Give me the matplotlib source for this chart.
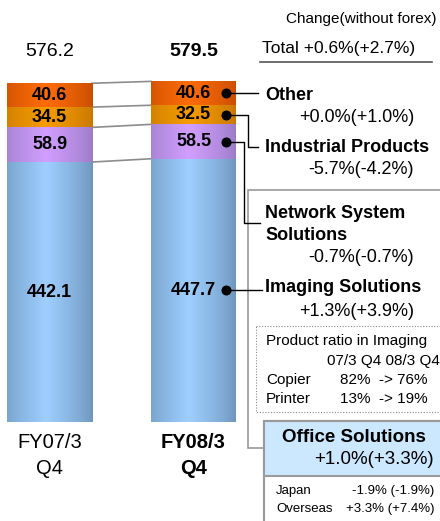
import numpy as np
import matplotlib
matplotlib.use("Agg")
import matplotlib.pyplot as plt
from matplotlib.colors import LinearSegmentedColormap
from matplotlib.patches import Rectangle

plt.rcParams['font.family'] = ['Liberation Sans', 'DejaVu Sans']

# data
periods = [("FY07/3", "Q4"), ("FY08/3", "Q4")]
totals = ["576.2", "579.5"]
office = [442.1, 447.7]
network = [58.9, 58.5]
industrial = [34.5, 32.5]
other = [40.6, 40.6]

segments = [office, network, industrial, other]
seg_colors = [("#6E96BD", "#9ECFFF"), ("#9B7CC6", "#D19EFF"),
              ("#C87800", "#F69C00"), ("#C84E00", "#FF6C08")]

W, H = 440, 521
fig = plt.figure(figsize=(W / 100, H / 100), dpi=100)

# bar axes: x unit = 144 px, y unit = 0.588 px, bars bottom at 422 px from top
ppx, ppy = 144.0, 0.588
ax = fig.add_axes([0, 0, 1, 1])
ax.set_xlim(-49.5 / ppx, (W - 49.5) / ppx)
ax.set_ylim(-(H - 422) / ppy, 422 / ppy)
ax.axis("off")

# overlay axes in pixel coords (origin top-left)
ov = fig.add_axes([0, 0, 1, 1], zorder=5)
ov.set_xlim(0, W)
ov.set_ylim(H, 0)
ov.axis("off")
ov.patch.set_alpha(0)

t = np.linspace(0, 1, 200)
prof = np.clip(1 - np.abs(t - 0.45) / 0.55, 0, 1) ** 0.8
grad = prof[np.newaxis, :]

xs = np.arange(len(periods))
bw = 85 / ppx
bottom = np.zeros(2)
tops = []
for vals, (c_edge, c_mid) in zip(segments, seg_colors):
    cmap = LinearSegmentedColormap.from_list("g", [c_edge, c_mid])
    bars = ax.bar(xs, vals, bw, bottom=bottom, color=c_mid, linewidth=0)
    for b in bars:
        im = ax.imshow(grad, cmap=cmap, aspect="auto", vmin=0, vmax=1,
                       extent=[b.get_x(), b.get_x() + b.get_width(),
                               b.get_y(), b.get_y() + b.get_height()],
                       zorder=2)
        im.set_clip_path(b)
    for i, v in enumerate(vals):
        ax.text(xs[i], bottom[i] + v / 2, f"{v:.1f}", ha="center", va="center",
                fontsize=13, fontweight="bold", zorder=4)
    bottom = bottom + np.array(vals)
    tops.append(bottom.copy())

# connector lines between bars
for b in tops:
    ax.plot([xs[0] + bw / 2, xs[1] - bw / 2], [b[0], b[1]], color="#8C8C8C",
            lw=1.2, zorder=1)
ax.set_xlim(-49.5 / ppx, (W - 49.5) / ppx)
ax.set_ylim(-(H - 422) / ppy, 422 / ppy)


def to_px(x, y):
    dx, dy = ax.transData.transform((x, y))
    return dx, H - dy


# dots on right bar
dot_x = xs[1] + 32.5 / ppx
mids = [office[1] / 2,
        office[1] + network[1] / 2,
        office[1] + network[1] + industrial[1] / 2,
        office[1] + network[1] + industrial[1] + other[1] / 2]
ax.plot([dot_x] * 4, mids, "o", color="black", ms=6.2, zorder=6)
dp = [to_px(dot_x, m) for m in mids]

# totals and period labels
for i in range(2):
    px, _ = to_px(xs[i], 0)
    wt = "bold" if i == 1 else "normal"
    ov.text(px, 52, totals[i], ha="center", va="center", fontsize=14, fontweight=wt)
    ov.text(px, 442, periods[i][0], ha="center", va="center", fontsize=14.5,
            fontweight=wt)
    ov.text(px, 469, periods[i][1], ha="center", va="center", fontsize=14.5,
            fontweight=wt)

ov.text(437, 19, "Change(without forex)", ha="right", va="center", fontsize=11)
ov.text(262, 49, "Total +0.6%(+2.7%)", ha="left", va="center", fontsize=12.5)
ov.plot([260, 432], [62, 62], color="#555555", lw=1.2)

# outer box (office solutions group)
ov.add_patch(Rectangle((248, 190), 200, 258, facecolor="white",
                       edgecolor="#9A9A9A", lw=1.2, zorder=1))
# dotted product-ratio box
ov.add_patch(Rectangle((256, 326), 200, 86, facecolor="none", edgecolor="#8A8A8A",
                       lw=0.8, ls=(0, (1, 1.5)), zorder=2))
# office solutions box
ov.add_patch(Rectangle((264, 421), 200, 120, facecolor="white",
                       edgecolor="#9A9A9A", lw=1.5, zorder=3))
ov.add_patch(Rectangle((264, 421), 200, 55, facecolor="#CCE8FF",
                       edgecolor="#9A9A9A", lw=1.5, zorder=3))

lk = dict(color="black", lw=1.0, zorder=4)
# leaders
ov.plot([dp[3][0], 258], [dp[3][1], dp[3][1]], **lk)
ov.plot([dp[2][0], 248, 248, 258], [dp[2][1], dp[2][1], 147, 147], **lk)
ov.plot([dp[1][0], 244, 244, 260], [dp[1][1], dp[1][1], 223, 223], **lk)
ov.plot([dp[0][0], 262], [dp[0][1], dp[0][1]], **lk)

bk = dict(fontsize=13, fontweight="bold", ha="left", va="center", zorder=6)
rk = dict(fontsize=13, ha="right", va="center", zorder=6)
ov.text(265, 95, "Other", **bk)
ov.text(414, 117, "+0.0%(+1.0%)", **rk)
ov.text(265, 147, "Industrial Products", **bk)
ov.text(414, 170, "-5.7%(-4.2%)", **rk)
ov.text(265, 213, "Network System", **bk)
ov.text(265, 235, "Solutions", **bk)
ov.text(414, 258, "-0.7%(-0.7%)", **rk)
ov.text(265, 288, "Imaging Solutions", **bk)
ov.text(414, 311, "+1.3%(+3.9%)", **rk)

sk = dict(fontsize=11, ha="left", va="center", zorder=6)
ov.text(266, 341, "Product ratio in Imaging", **sk)
ov.text(327, 361, "07/3 Q4 08/3 Q4", **sk)
ov.text(266, 380, "Copier", **sk)
ov.text(340, 380, "82%  -> 76%", **sk)
ov.text(266, 399, "Printer", **sk)
ov.text(340, 399, "13%  -> 19%", **sk)

ov.text(354, 438, "Office Solutions", fontsize=13.5, fontweight="bold",
        ha="center", va="center", zorder=6)
ov.text(434, 460, "+1.0%(+3.3%)", fontsize=13.5, ha="right", va="center", zorder=6)

tk = dict(fontsize=9.5, va="center", zorder=6)
ov.text(276, 491, "Japan", ha="left", **tk)
ov.text(434, 491, "-1.9% (-1.9%)", ha="right", **tk)
ov.text(276, 509, "Overseas", ha="left", **tk)
ov.text(434, 509, "+3.3% (+7.4%)", ha="right", **tk)

fig.savefig("out.png", dpi=100)
